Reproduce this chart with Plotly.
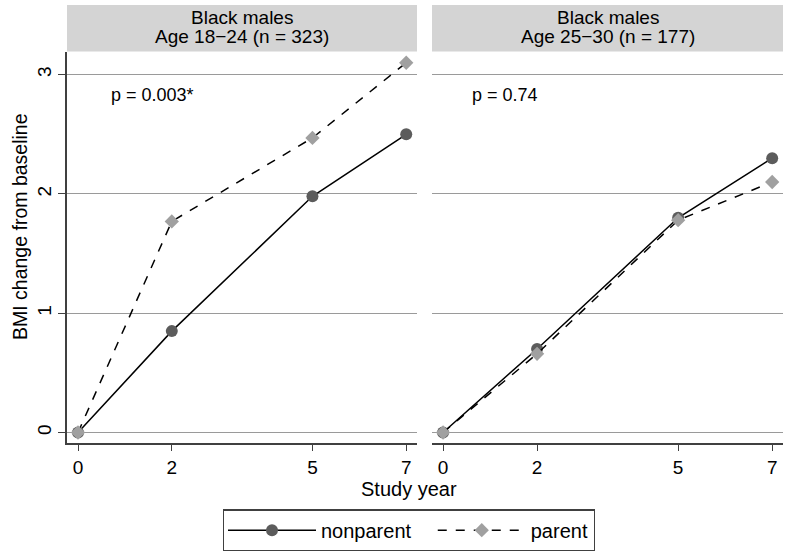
import plotly.graph_objects as go

W, H = 793, 556

years = [0, 2, 5, 7]
young_nonparent = [0.0, 0.85, 1.98, 2.50]
young_parent = [0.0, 1.77, 2.47, 3.10]
older_nonparent = [0.0, 0.70, 1.80, 2.30]
older_parent = [0.0, 0.66, 1.78, 2.10]
series_names = ["nonparent", "parent"]
panel_titles = [["Black males", "Age 18\u221224 (n = 323)"],
                ["Black males", "Age 25\u221230 (n = 177)"]]
p_labels = ["p = 0.003*", "p = 0.74"]
y_ticks = [0, 1, 2, 3]
x_ticks = [0, 2, 5, 7]

FONT = "Liberation Sans, Arial, sans-serif"

def px_x(p):
    return p / W

def px_y(p):
    return 1 - p / H

fig = go.Figure()

panels = [(young_nonparent, young_parent, "x", "y"),
          (older_nonparent, older_parent, "x2", "y2")]
for i, (npar, par, xa, ya) in enumerate(panels):
    fig.add_trace(go.Scatter(
        x=years, y=npar, xaxis=xa, yaxis=ya, mode="lines+markers",
        name=series_names[0] + "\u00a0\u00a0\u00a0", legendgroup="np",
        showlegend=(i == 0),
        line=dict(color="black", width=1.5),
        marker=dict(symbol="circle", size=12, color="#5c5c5c")))
    fig.add_trace(go.Scatter(
        x=years, y=par, xaxis=xa, yaxis=ya, mode="lines+markers",
        name=series_names[1], legendgroup="p", showlegend=(i == 0),
        line=dict(color="black", width=1.5, dash="dash"),
        marker=dict(symbol="diamond", size=11, color="#a0a0a0")))

left_dom = [px_x(67), px_x(417)]
right_dom = [px_x(432), px_x(783)]
y_dom = [px_y(443), px_y(52)]
xr = [-0.235, 7.23]
yr = [-0.088, 3.19]

axis_common = dict(range=xr, tickvals=x_ticks, ticks="outside", ticklen=6,
                   tickcolor="#404040", showline=True, linecolor="#404040",
                   linewidth=1.5, showgrid=False, zeroline=False,
                   tickfont=dict(size=19, color="black", family=FONT))

fig.update_layout(
    width=W, height=H, margin=dict(l=0, r=0, t=0, b=0),
    paper_bgcolor="white", plot_bgcolor="white",
    font=dict(family=FONT, color="black"),
    xaxis=dict(domain=left_dom, anchor="y", **axis_common),
    xaxis2=dict(domain=right_dom, anchor="y2", **axis_common),
    yaxis=dict(domain=y_dom, anchor="x", range=yr, tickvals=y_ticks,
               ticks="outside", ticklen=7, tickcolor="#404040",
               showline=True, linecolor="#404040", linewidth=1.5,
               showgrid=True, gridcolor="#9a9a9a", gridwidth=1,
               zeroline=False, tickangle=-90,
               tickfont=dict(size=19, color="black", family=FONT)),
    yaxis2=dict(domain=y_dom, anchor="x2", range=yr, tickvals=y_ticks,
                showticklabels=False, ticks="", showline=False,
                showgrid=True, gridcolor="#9a9a9a", gridwidth=1,
                zeroline=False),
    legend=dict(orientation="h", x=px_x(409), y=px_y(530.5),
                xanchor="center", yanchor="middle",
                bordercolor="#404040", borderwidth=1.2,
                font=dict(size=20, family=FONT, color="black"),
                itemwidth=88),
    showlegend=True,
)

shapes = []
annotations = []
for dom, titles in zip([left_dom, right_dom], panel_titles):
    shapes.append(dict(type="rect", xref="paper", yref="paper",
                       x0=dom[0], x1=dom[1], y0=px_y(51.5), y1=px_y(5),
                       fillcolor="#d4d4d4", line=dict(width=0), layer="below"))
    cx = (dom[0] + dom[1]) / 2
    for t, yy in zip(titles, [17, 36]):
        annotations.append(dict(text=t, x=cx, y=px_y(yy), xref="paper",
                                yref="paper", showarrow=False,
                                xanchor="center", yanchor="middle",
                                font=dict(size=19, family=FONT, color="black")))

annotations.append(dict(text=p_labels[0], x=0.66, y=2.83, xref="x", yref="y",
                        showarrow=False, xanchor="left", yanchor="middle",
                        font=dict(size=18, family=FONT, color="black")))
annotations.append(dict(text=p_labels[1], x=0.57, y=2.83, xref="x2", yref="y2",
                        showarrow=False, xanchor="left", yanchor="middle",
                        font=dict(size=18, family=FONT, color="black")))
annotations.append(dict(text="Study year", x=px_x(409), y=px_y(489),
                        xref="paper", yref="paper", showarrow=False,
                        xanchor="center", yanchor="middle",
                        font=dict(size=20, family=FONT, color="black")))
annotations.append(dict(text="BMI change from baseline", x=px_x(20),
                        y=px_y(227), xref="paper", yref="paper",
                        showarrow=False, textangle=-90,
                        xanchor="center", yanchor="middle",
                        font=dict(size=19.5, family=FONT, color="black")))

fig.update_layout(shapes=shapes, annotations=annotations)
fig.write_html("out.html",
               config={"displayModeBar": False},
               post_script="document.body.style.margin='0';"
                           "document.body.style.overflow='hidden';")
